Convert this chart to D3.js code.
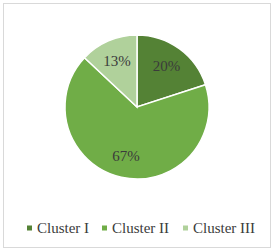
<!DOCTYPE html>
<html>
<head>
<meta charset="utf-8">
<script src="https://cdn.jsdelivr.net/npm/d3@7"></script>
<style>
  body { margin: 0; background: #fff; }
  svg text { font-family: "Liberation Serif", "DejaVu Serif", serif; fill: #3b3b3b; }
</style>
</head>
<body>
<div id="chart"></div>
<script>
var categories = ["Cluster I", "Cluster II", "Cluster III"];
var values = [20, 67, 13];
var colors = ["#548235", "#70ad47", "#b0d19b"];

var width = 274, height = 251;
var cx = 137, cy = 107, radius = 72;

var svg = d3.select("#chart")
    .append("svg")
    .attr("width", width)
    .attr("height", height);

svg.append("rect")
    .attr("x", 3.5)
    .attr("y", 3.5)
    .attr("width", width - 7)
    .attr("height", height - 7)
    .attr("fill", "#fff")
    .attr("stroke", "#d9d9d9");

var data = categories.map(function(c, i) {
    return { name: c, value: values[i], color: colors[i] };
});

var pie = d3.pie()
    .sort(null)
    .value(function(d) { return d.value; });

var arc = d3.arc().innerRadius(0).outerRadius(radius);
var labelArc = d3.arc().innerRadius(radius * 0.7).outerRadius(radius * 0.7);

var g = svg.append("g")
    .attr("transform", "translate(" + cx + "," + cy + ")");

var slices = g.selectAll(".slice")
    .data(pie(data))
    .enter();

slices.append("path")
    .attr("class", "slice")
    .attr("d", arc)
    .attr("fill", function(d) { return d.data.color; })
    .attr("stroke", "#fff")
    .attr("stroke-width", 1.5);

slices.append("text")
    .attr("transform", function(d) { return "translate(" + labelArc.centroid(d) + ")"; })
    .attr("text-anchor", "middle")
    .attr("dy", "0.35em")
    .style("font-size", "15px")
    .text(function(d) { return d.data.value + "%"; });

// legend
var legendX = [27, 102, 183];
var legend = svg.selectAll(".legend")
    .data(data)
    .enter()
    .append("g")
    .attr("class", "legend")
    .attr("transform", function(d, i) { return "translate(" + legendX[i] + ",228)"; });

legend.append("rect")
    .attr("x", 0)
    .attr("y", -2.5)
    .attr("width", 5)
    .attr("height", 5)
    .attr("fill", function(d) { return d.color; });

legend.append("text")
    .attr("x", 10)
    .attr("dy", "0.35em")
    .style("font-size", "15px")
    .text(function(d) { return d.name; });
</script>
</body>
</html>
